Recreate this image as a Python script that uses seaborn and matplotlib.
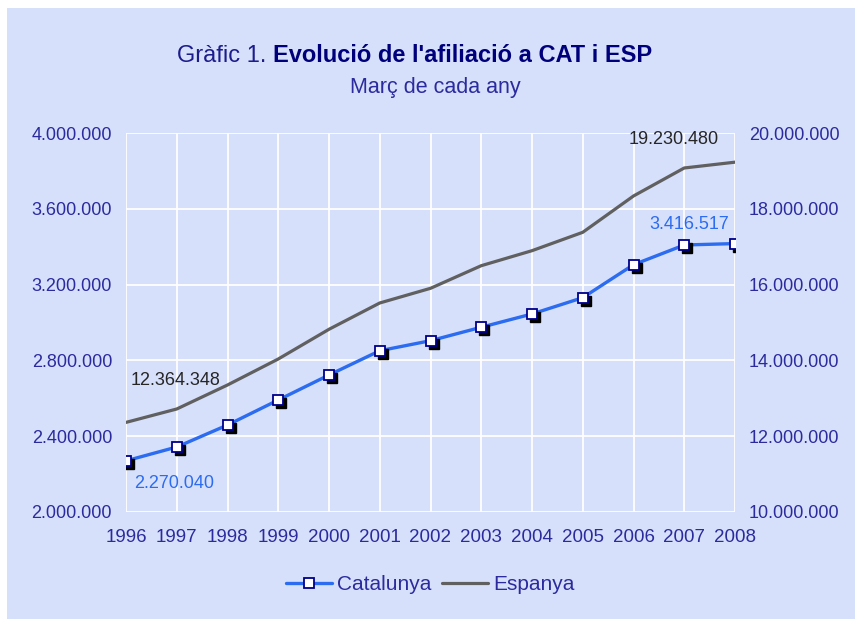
import matplotlib
matplotlib.use("Agg")
import matplotlib.pyplot as plt
import matplotlib.transforms as mtransforms
from matplotlib.lines import Line2D
from matplotlib.patches import Rectangle
import seaborn as sns
import pandas as pd

years = [1996, 1997, 1998, 1999, 2000, 2001, 2002, 2003, 2004, 2005, 2006, 2007, 2008]
catalunya = [2270040, 2343000, 2459000, 2591000, 2723000, 2851000, 2904000,
             2975000, 3045000, 3131000, 3305000, 3409000, 3416517]
espanya = [12364348, 12718000, 13351000, 14037000, 14821000, 15515000, 15902000,
           16499000, 16895000, 17380000, 18338000, 19077000, 19230480]
left_ticks = [2000000, 2400000, 2800000, 3200000, 3600000, 4000000]
right_ticks = [10000000, 12000000, 14000000, 16000000, 18000000, 20000000]
title_plain = "Gràfic 1. "
title_bold = "Evolució de l'afiliació a CAT i ESP"
subtitle = "Març de cada any"
series_names = ["Catalunya", "Espanya"]

def fmt(v):
    return f"{int(v):,}".replace(",", ".")

df = pd.DataFrame({"year": years, "Catalunya": catalunya, "Espanya": espanya})

sns.set_theme(style="white")
plt.rcParams['font.family'] = ['Liberation Sans', 'DejaVu Sans']

BG = "#d7e0fb"
TXT = "#2b2b9e"
BLUE = "#2c6cf0"
GRAY = "#606060"

fig = plt.figure(figsize=(8.55, 6.19), dpi=100)
fig.patch.set_facecolor("white")
fig.patches.append(Rectangle((7 / 855, 0), 1, 1 - 8 / 619, transform=fig.transFigure,
                             facecolor=BG, edgecolor="none", zorder=-10))

ax = fig.add_axes([126 / 855, 1 - 512 / 619, (735 - 126) / 855, (512 - 133) / 619])
ax2 = ax.twinx()

# Espanya on right axis
sns.lineplot(data=df, x="year", y="Espanya", ax=ax2, color=GRAY, linewidth=2.3, zorder=3)

# Catalunya on left axis, with shadowed square markers
sns.lineplot(data=df, x="year", y="Catalunya", ax=ax, color=BLUE, linewidth=2.4, zorder=3)
shadow = mtransforms.offset_copy(ax.transData, fig=fig, x=2.2, y=-2.2, units="points")
ax.plot(df["year"], df["Catalunya"], linestyle="none", marker="s", markersize=7.5,
        markerfacecolor="black", markeredgecolor="black", transform=shadow, zorder=4)
ax.plot(df["year"], df["Catalunya"], linestyle="none", marker="s", markersize=7.5,
        markerfacecolor="white", markeredgecolor="#00008b", markeredgewidth=1.3, zorder=5)

ax.set_zorder(ax2.get_zorder() + 1)
ax.patch.set_visible(False)
ax2.patch.set_visible(True)
ax2.patch.set_facecolor(BG)

ax.set_xlim(years[0], years[-1])
ax.set_ylim(left_ticks[0], left_ticks[-1])
ax2.set_ylim(right_ticks[0], right_ticks[-1])
ax.set_xticks(years)
ax.set_xticklabels([str(y) for y in years])
ax.set_yticks(left_ticks)
ax.set_yticklabels([fmt(v) for v in left_ticks])
ax2.set_yticks(right_ticks)
ax2.set_yticklabels([fmt(v) for v in right_ticks])
for a in (ax, ax2):
    a.set_xlabel("")
    a.set_ylabel("")
    for s in a.spines.values():
        s.set_visible(False)
    a.tick_params(axis="both", length=0, labelsize=13, labelcolor=TXT)
ax.tick_params(axis="x", pad=12, labelsize=13.5)
ax.tick_params(axis="y", pad=10)
ax2.tick_params(axis="y", pad=10)

# white grid drawn on ax2 (behind lines)
for y in right_ticks:
    ax2.axhline(y, color="white", linewidth=1.3, zorder=1)
for x in years:
    ax2.axvline(x, color="white", linewidth=1.3, zorder=1)

# data labels
ax.annotate(fmt(catalunya[0]), (years[0], catalunya[0]), xytext=(6, -16),
            textcoords="offset points", color=BLUE, fontsize=13, ha="left", va="center")
ax.annotate(fmt(catalunya[-1]), (years[-1], catalunya[-1]), xytext=(-4, 14),
            textcoords="offset points", color=BLUE, fontsize=13, ha="right", va="center")
ax2.annotate(fmt(espanya[0]), (years[0], espanya[0]), xytext=(3, 30),
             textcoords="offset points", color="#262626", fontsize=13, ha="left", va="center")
ax2.annotate(fmt(espanya[-1]), (years[-1], espanya[-1]), xytext=(-12, 16),
             textcoords="offset points", color="#262626", fontsize=13, ha="right", va="center")

# title made of two parts, centred together
fig.canvas.draw()
r = fig.canvas.get_renderer()
t1 = fig.text(0, 1 - 56 / 619, title_plain, fontsize=17, color="#1c1c8c", va="center", ha="left")
t2 = fig.text(0, 1 - 56 / 619, title_bold, fontsize=17, color="#00007a", va="center", ha="left",
              fontweight="bold")
w1 = t1.get_window_extent(r).width
w2 = t2.get_window_extent(r).width
cx = 415
x0 = cx - (w1 + w2) / 2
t1.set_x(x0 / 855)
t2.set_x((x0 + w1) / 855)
fig.text(435 / 855, 1 - 88 / 619, subtitle, fontsize=15.5, color=TXT, ha="center", va="center")

handles = [
    Line2D([], [], color=BLUE, linewidth=2.4, marker="s", markersize=7.5,
           markerfacecolor="white", markeredgecolor="#00008b", markeredgewidth=1.3),
    Line2D([], [], color=GRAY, linewidth=2.3),
]
leg = fig.legend(handles, series_names, loc="center", bbox_to_anchor=(430 / 855, 1 - 585 / 619),
                 ncol=2, frameon=False, fontsize=15, handlelength=2.2, handletextpad=0.25,
                 columnspacing=0.5)
for t in leg.get_texts():
    t.set_color(TXT)

fig.savefig("out.png", dpi=100, facecolor=fig.get_facecolor())
